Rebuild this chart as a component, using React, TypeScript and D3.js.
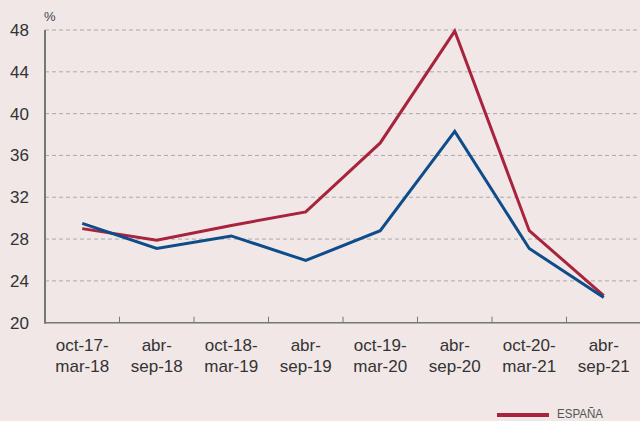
import React, { useEffect, useRef } from 'react';
import * as d3 from 'd3';

const categories = [
  ['oct-17-', 'mar-18'],
  ['abr-', 'sep-18'],
  ['oct-18-', 'mar-19'],
  ['abr-', 'sep-19'],
  ['oct-19-', 'mar-20'],
  ['abr-', 'sep-20'],
  ['oct-20-', 'mar-21'],
  ['abr-', 'sep-21'],
];
const espana = [29.0, 27.9, 29.3, 30.6, 37.2, 47.9, 28.8, 22.6];
const otra = [29.5, 27.1, 28.3, 25.95, 28.8, 38.3, 27.1, 22.4];
const yTicks = [20, 24, 28, 32, 36, 40, 44, 48];

const W = 640;
const H = 421;

const App: React.FC = () => {
  const svgRef = useRef<SVGSVGElement | null>(null);

  useEffect(() => {
    if (!svgRef.current) return;
    const svg = d3.select(svgRef.current);
    svg.selectAll('*').remove();

    const left = 45;
    const right = 641;
    const top = 30;
    const bottom = 322.7;

    const x = d3.scaleBand<number>().domain(d3.range(categories.length)).range([left, right]);
    const y = d3.scaleLinear().domain([20, 48]).range([bottom, top]);
    const font = '"Liberation Sans", Arial, sans-serif';

    svg.append('rect').attr('width', W).attr('height', H).attr('fill', '#f1e7e7');

    // grid
    svg.selectAll('.grid').data(yTicks.filter(d => d > 20)).enter().append('line')
      .attr('x1', left).attr('x2', W)
      .attr('y1', d => y(d)).attr('y2', d => y(d))
      .attr('stroke', '#aaa').attr('stroke-width', 1).attr('stroke-dasharray', '4,3');

    // y labels
    svg.selectAll('.ylab').data(yTicks).enter().append('text')
      .attr('x', 29).attr('y', d => y(d) + 6).attr('text-anchor', 'end')
      .attr('font-family', font).attr('font-size', 17).attr('fill', '#333')
      .text(d => d);

    svg.append('text').attr('x', 44).attr('y', 21)
      .attr('font-family', font).attr('font-size', 13).attr('fill', '#444').text('%');

    // x axis ticks at band boundaries
    svg.selectAll('.xtick').data(d3.range(1, categories.length)).enter().append('line')
      .attr('x1', d => x(d)!).attr('x2', d => x(d)!)
      .attr('y1', bottom).attr('y2', bottom - 6)
      .attr('stroke', '#777').attr('stroke-width', 1);

    svg.append('line').attr('x1', left).attr('x2', W).attr('y1', bottom).attr('y2', bottom)
      .attr('stroke', '#777').attr('stroke-width', 1.5);
    svg.append('line').attr('x1', left).attr('x2', left).attr('y1', top).attr('y2', bottom + 1)
      .attr('stroke', '#777').attr('stroke-width', 2);

    // x labels
    const xl = svg.selectAll('.xlab').data(categories).enter().append('text')
      .attr('text-anchor', 'middle')
      .attr('font-family', font).attr('font-size', 17).attr('fill', '#333');
    xl.append('tspan').attr('x', (_, i) => x(i)! + x.bandwidth() / 2).attr('y', 351).text(d => d[0]);
    xl.append('tspan').attr('x', (_, i) => x(i)! + x.bandwidth() / 2).attr('y', 372).text(d => d[1]);

    const line = d3.line<number>()
      .x((_, i) => x(i)! + x.bandwidth() / 2)
      .y(d => y(d));

    svg.append('path').datum(espana).attr('d', line)
      .attr('fill', 'none').attr('stroke', '#a8243e').attr('stroke-width', 3).attr('stroke-linejoin', 'miter');
    svg.append('path').datum(otra).attr('d', line)
      .attr('fill', 'none').attr('stroke', '#0e4c8a').attr('stroke-width', 3).attr('stroke-linejoin', 'miter');

    // legend
    svg.append('line').attr('x1', 497).attr('x2', 549).attr('y1', 415).attr('y2', 415)
      .attr('stroke', '#a8243e').attr('stroke-width', 4);
    svg.append('text').attr('x', 557).attr('y', 418)
      .attr('font-family', font).attr('font-size', 12).attr('fill', '#555')
      .attr('textLength', 46).attr('lengthAdjust', 'spacingAndGlyphs')
      .text('ESPAÑA');
  }, []);

  return (
    <svg ref={svgRef} width={W} height={H}
      style={{ position: 'absolute', left: 0, top: 0, display: 'block' }} />
  );
};

export default App;
